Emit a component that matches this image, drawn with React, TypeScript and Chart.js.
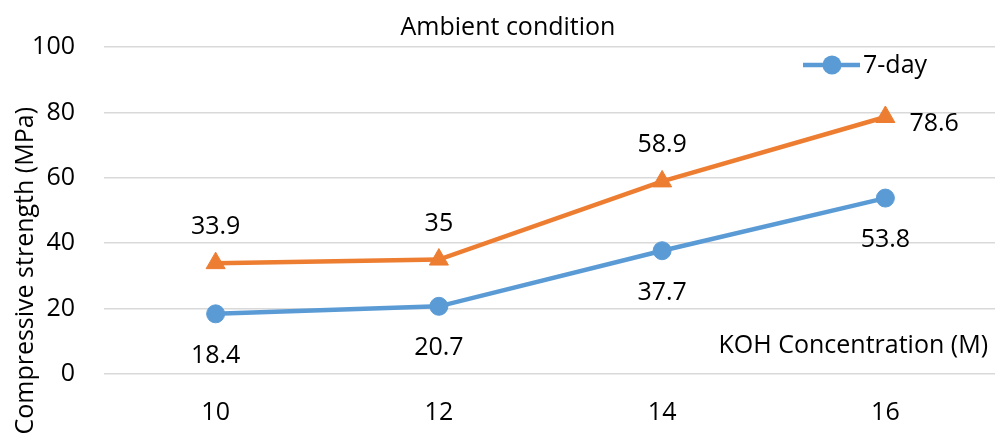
import React, { useEffect, useRef } from "react";
import { Chart, registerables } from "chart.js";

Chart.register(...registerables);

const categories = ["10", "12", "14", "16"];
const day7 = [18.4, 20.7, 37.7, 53.8];
const day28 = [33.9, 35, 58.9, 78.6];
const yTicks = [0, 20, 40, 60, 80, 100];

const FONT = "'Open Sans', sans-serif";
const BLUE = "#5B9BD5";
const ORANGE = "#ED7D31";

// the x scale keeps half of its last label as room on the right, so the canvas
// is drawn that much wider and clipped by the frame
const FRAME_W = 995;
const FRAME_H = 441;
const CANVAS_W = FRAME_W + 14;

const decorations = {
  id: "decorations",
  afterDatasetsDraw(chart: any) {
    const ctx = chart.ctx as CanvasRenderingContext2D;
    ctx.save();
    ctx.fillStyle = "#000";
    ctx.font = `25px ${FONT}`;
    ctx.textBaseline = "alphabetic";

    // value labels: 7-day below its points, 28-day above (last one to the right)
    const metaBlue = chart.getDatasetMeta(0);
    metaBlue.data.forEach((pt: any, i: number) => {
      ctx.textAlign = "center";
      ctx.fillText(String(day7[i]), pt.x, pt.y + 40 + 9);
    });
    const metaOrange = chart.getDatasetMeta(1);
    metaOrange.data.forEach((pt: any, i: number) => {
      if (i === day28.length - 1) {
        ctx.textAlign = "left";
        ctx.fillText(String(day28[i]), pt.x + 24, pt.y + 5 + 9);
      } else {
        ctx.textAlign = "center";
        ctx.fillText(String(day28[i]), pt.x, pt.y - 38 + 9);
      }
    });

    // chart title
    ctx.textAlign = "center";
    ctx.fillText("Ambient condition", 508, 35);

    // x-axis title inside the plot, bottom right
    ctx.textAlign = "right";
    ctx.fillText("KOH Concentration (M)", 988, 353);

    // legend entry for the 7-day series
    ctx.strokeStyle = BLUE;
    ctx.lineWidth = 4.5;
    ctx.beginPath();
    ctx.moveTo(803, 65);
    ctx.lineTo(860, 65);
    ctx.stroke();
    ctx.fillStyle = BLUE;
    ctx.beginPath();
    ctx.arc(832, 65, 9.5, 0, Math.PI * 2);
    ctx.fill();
    ctx.fillStyle = "#000";
    ctx.textAlign = "left";
    ctx.fillText("7-day", 863, 73);

    // y-axis title
    ctx.translate(33, 107);
    ctx.rotate(-Math.PI / 2);
    ctx.textAlign = "right";
    ctx.fillText("Compressive strength (MPa)", 0, 0);
    ctx.restore();
  },
};

export default function App() {
  const canvasRef = useRef<HTMLCanvasElement | null>(null);

  useEffect(() => {
    const canvas = canvasRef.current;
    if (!canvas) return;
    const chart = new Chart(canvas, {
      type: "line",
      data: {
        labels: categories,
        datasets: [
          {
            label: "7-day",
            data: day7,
            borderColor: BLUE,
            backgroundColor: BLUE,
            borderWidth: 4.5,
            pointStyle: "circle",
            pointRadius: 9,
            pointBorderWidth: 1,
            pointBackgroundColor: BLUE,
            pointBorderColor: BLUE,
            tension: 0,
          },
          {
            label: "28-day",
            data: day28,
            borderColor: ORANGE,
            backgroundColor: ORANGE,
            borderWidth: 4.5,
            pointStyle: "triangle",
            pointRadius: 11,
            pointBorderWidth: 1,
            pointBackgroundColor: ORANGE,
            pointBorderColor: ORANGE,
            tension: 0,
          },
        ],
      },
      options: {
        animation: false,
        responsive: false,
        maintainAspectRatio: false,
        layout: { padding: { top: 47, right: 1, left: 0, bottom: 0 } },
        plugins: {
          legend: { display: false },
          title: { display: false },
          tooltip: { enabled: false },
        },
        scales: {
          x: {
            type: "category",
            offset: true,
            grid: { display: false, drawTicks: false },
            border: { display: false },
            ticks: {
              color: "#000",
              font: { family: FONT, size: 25 },
              padding: 24,
              maxRotation: 0,
            },
            afterFit: (scale: any) => {
              scale.height = 67;
            },
          },
          y: {
            min: 0,
            max: 100,
            grid: { color: "#D9D9D9", lineWidth: 1.5, drawTicks: false },
            border: { display: false },
            afterBuildTicks: (scale: any) => {
              scale.ticks = yTicks.map((v) => ({ value: v }));
            },
            ticks: {
              color: "#000",
              font: { family: FONT, size: 25 },
              padding: 29,
            },
            afterFit: (scale: any) => {
              scale.width = 104;
            },
          },
        },
      },
      plugins: [decorations],
    });
    return () => chart.destroy();
  }, []);

  return (
    <div
      style={{
        position: "fixed",
        left: 0,
        top: 0,
        width: FRAME_W,
        height: FRAME_H,
        overflow: "hidden",
        background: "#fff",
      }}
    >
      <canvas ref={canvasRef} width={CANVAS_W} height={FRAME_H} style={{ display: "block" }} />
    </div>
  );
}
